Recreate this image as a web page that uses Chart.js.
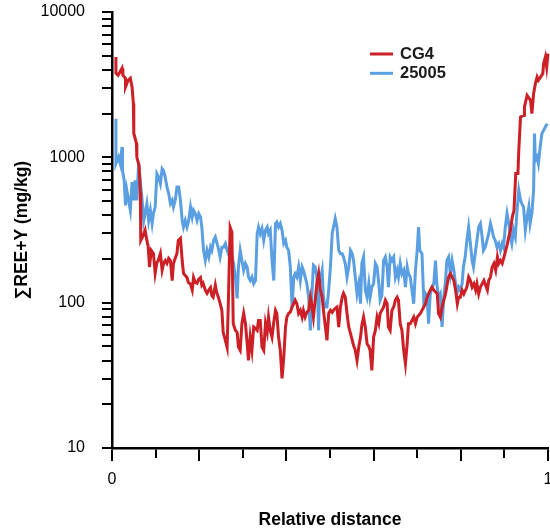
<!DOCTYPE html>
<html><head><meta charset="utf-8">
<script src="https://cdn.jsdelivr.net/npm/chart.js@4.4.1/dist/chart.umd.min.js"></script>
<style>html,body{margin:0;padding:0;background:#fff;}#wrap{width:550px;height:531px;}</style>
</head><body><div id="wrap"><canvas id="c" width="550" height="531"></canvas></div>
<script>
const seriesNames = ['CG4', '25005'];
const cg4X = [0.009,0.009,0.014,0.023,0.025,0.031,0.031,0.037,0.042,0.046,0.049,0.050,0.056,0.057,0.062,0.065,0.066,0.072,0.076,0.080,0.083,0.086,0.090,0.095,0.099,0.103,0.106,0.111,0.115,0.119,0.122,0.126,0.130,0.134,0.138,0.141,0.145,0.149,0.152,0.157,0.161,0.164,0.168,0.172,0.175,0.180,0.184,0.187,0.191,0.195,0.199,0.203,0.206,0.209,0.214,0.218,0.222,0.226,0.229,0.232,0.237,0.240,0.244,0.248,0.252,0.255,0.260,0.264,0.267,0.271,0.275,0.278,0.283,0.287,0.290,0.294,0.298,0.302,0.306,0.310,0.313,0.317,0.321,0.325,0.329,0.333,0.336,0.340,0.344,0.348,0.352,0.356,0.359,0.363,0.367,0.371,0.375,0.378,0.382,0.386,0.390,0.394,0.398,0.401,0.405,0.409,0.413,0.417,0.420,0.424,0.428,0.432,0.436,0.439,0.443,0.447,0.451,0.455,0.459,0.462,0.466,0.470,0.474,0.478,0.482,0.485,0.489,0.493,0.497,0.501,0.505,0.508,0.512,0.516,0.520,0.524,0.528,0.531,0.535,0.539,0.543,0.547,0.551,0.554,0.558,0.562,0.566,0.570,0.573,0.577,0.581,0.585,0.589,0.592,0.596,0.600,0.604,0.608,0.612,0.615,0.619,0.623,0.627,0.631,0.634,0.638,0.642,0.646,0.650,0.654,0.657,0.661,0.665,0.669,0.673,0.677,0.680,0.684,0.688,0.692,0.696,0.700,0.707,0.711,0.715,0.719,0.723,0.726,0.730,0.734,0.738,0.746,0.749,0.753,0.757,0.761,0.765,0.769,0.772,0.776,0.780,0.784,0.788,0.792,0.795,0.799,0.803,0.807,0.814,0.818,0.822,0.826,0.830,0.834,0.837,0.841,0.845,0.853,0.861,0.864,0.868,0.872,0.876,0.880,0.884,0.887,0.891,0.895,0.899,0.903,0.907,0.910,0.914,0.918,0.922,0.926,0.931,0.933,0.937,0.945,0.946,0.952,0.960,0.963,0.967,0.971,0.975,0.978,0.988,0.990,0.994,0.997,1.000];
const cg4Y = [4900,3800,3670,4100,3670,3500,3050,3390,3500,3050,2350,1460,1250,1000,881,565,268,291,315,268,244,176,229,218,159,189,195,218,167,189,195,186,202,195,142,186,202,218,268,277,195,159,154,149,138,134,122,149,138,136,145,149,132,136,122,116,122,127,112,109,132,118,109,99,88.5,62.5,55,49.2,104,330,305,72,64.5,62.5,49.5,47,72,84.4,72,52.5,40,58,47,68,66.5,64.5,75.5,75.5,49.5,47,72,62.8,79.6,64.5,58,73.5,88.5,84.4,58,47,30.1,42.2,68,79.6,84.4,86.2,93.3,99,104,98.4,84.4,88.5,79.6,88.5,79.6,85.8,88.5,109,93.3,79.6,104,136,159,122,109,88.5,69.8,55,84.4,88.5,85.8,88.5,91.4,93.3,68,93.3,109,116,109,84.4,68,61.5,55,50.8,47,40,49.5,58,69.8,79.6,68,52.2,50,47,34.2,58,64.5,79.6,72,84.4,88.5,93.3,104,98.4,68,64.5,88.5,93.3,104,109,104,71.7,64.5,47,38,52.2,71.7,71.7,75.5,79.6,71.7,79.6,84,88.5,93.3,98.4,109,115,122,128,122,115,84,79.6,93.3,104,115,135,150,158,150,142,122,98.4,109,109,122,115,128,150,142,128,135,122,135,115,128,142,122,142,150,176,186,167,206,186,195,186,206,229,255,283,315,388,432,773,773,1117,1894,1945,2220,2672,2468,2000,2745,3215,3570,3390,3767,4415,4900,4183,5172];
const s25005X = [0.009,0.009,0.015,0.019,0.023,0.024,0.028,0.031,0.034,0.038,0.042,0.046,0.050,0.053,0.057,0.061,0.065,0.069,0.073,0.076,0.080,0.084,0.088,0.092,0.095,0.099,0.103,0.107,0.111,0.115,0.118,0.122,0.126,0.130,0.134,0.138,0.141,0.145,0.149,0.153,0.157,0.161,0.164,0.168,0.172,0.176,0.180,0.184,0.187,0.191,0.195,0.199,0.203,0.206,0.210,0.214,0.218,0.222,0.226,0.229,0.233,0.237,0.241,0.245,0.248,0.252,0.256,0.260,0.264,0.267,0.271,0.275,0.279,0.283,0.287,0.290,0.294,0.298,0.302,0.306,0.310,0.313,0.317,0.321,0.325,0.329,0.333,0.336,0.340,0.344,0.348,0.352,0.356,0.359,0.363,0.367,0.371,0.375,0.378,0.382,0.386,0.390,0.394,0.398,0.401,0.405,0.409,0.413,0.417,0.420,0.424,0.428,0.432,0.436,0.439,0.443,0.447,0.451,0.455,0.459,0.462,0.466,0.470,0.474,0.476,0.482,0.485,0.489,0.493,0.497,0.501,0.505,0.508,0.512,0.516,0.520,0.524,0.528,0.531,0.535,0.539,0.543,0.547,0.551,0.554,0.558,0.562,0.566,0.570,0.573,0.577,0.581,0.585,0.589,0.592,0.596,0.600,0.604,0.608,0.612,0.615,0.619,0.623,0.627,0.631,0.634,0.638,0.642,0.646,0.650,0.654,0.657,0.661,0.665,0.669,0.673,0.677,0.680,0.684,0.688,0.692,0.696,0.700,0.703,0.706,0.711,0.715,0.719,0.723,0.726,0.730,0.734,0.738,0.742,0.745,0.749,0.753,0.757,0.761,0.765,0.768,0.772,0.776,0.780,0.784,0.787,0.791,0.795,0.799,0.803,0.806,0.810,0.814,0.818,0.822,0.826,0.829,0.833,0.837,0.841,0.845,0.849,0.852,0.856,0.860,0.864,0.868,0.872,0.875,0.879,0.883,0.887,0.891,0.895,0.898,0.902,0.906,0.910,0.914,0.917,0.921,0.925,0.929,0.933,0.937,0.940,0.944,0.948,0.952,0.956,0.959,0.963,0.967,0.969,0.971,0.975,0.978,0.982,0.986,0.990,0.994,0.998];
const s25005Y = [1846,905,1005,905,1178,814,695,467,593,506,432,676,506,695,506,905,695,506,368,412,480,368,432,350,410,455,772,732,659,836,814,732,625,563,480,506,455,506,625,625,506,368,331,368,331,368,455,388,432,410,368,410,388,331,229,195,229,206,241,229,268,283,255,229,206,241,241,255,229,217,241,206,186,150,107,176,229,195,167,186,176,150,142,150,135,142,298,331,298,323,268,315,331,298,315,195,142,350,359,331,350,315,255,268,241,229,176,93.3,150,158,150,176,142,176,167,150,135,109,64.5,122,181,176,150,64.5,135,167,109,93.3,93.3,122,176,298,331,379,331,229,217,217,206,186,150,176,229,217,195,150,115,135,98.4,186,206,122,109,135,109,128,135,186,176,135,104,112,195,206,176,128,206,195,206,150,167,150,186,158,167,128,176,158,150,122,98.4,167,229,331,229,217,104,115,109,71.7,115,128,135,195,135,109,115,68,109,142,195,206,158,195,167,142,115,128,122,135,176,206,268,331,255,195,176,217,268,331,350,283,229,241,268,298,350,315,283,268,241,255,229,255,241,331,410,350,283,255,315,283,432,593,506,480,455,315,388,455,350,410,593,1456,953,1005,905,1178,1456,1534,1616,1706];
const yTickLabels = [10, 100, 1000, 10000];
const xTickLabels = [0, 1];
const xLongTicks = [0, 0.2, 0.4, 0.6, 0.8, 1];

const FONT = '"Liberation Sans", Arial, sans-serif';

const legendPlugin = {
  id: 'stackedLegend',
  afterDraw(chart) {
    const c = chart.ctx;
    c.save();
    chart.data.datasets.forEach((ds, i) => {
      const y = 54 + i * 19.3;
      c.strokeStyle = ds.borderColor;
      c.lineWidth = 3;
      c.beginPath(); c.moveTo(370, y); c.lineTo(393, y); c.stroke();
      c.fillStyle = '#1a1a1a';
      c.font = 'bold 16.5px ' + FONT;
      c.textBaseline = 'middle';
      c.textAlign = 'left';
      c.fillText(ds.label, 400, y);
    });
    c.restore();
  }
};
const longTickPlugin = {
  id: 'longTicks',
  afterDraw(chart) {
    const s = chart.scales.x, c = chart.ctx;
    c.save(); c.strokeStyle = '#000'; c.lineWidth = 2;
    xLongTicks.forEach(v => {
      const px = Math.round(s.getPixelForValue(v));
      c.beginPath(); c.moveTo(px, s.top + 8); c.lineTo(px, s.top + 13); c.stroke();
    });
    c.restore();
  }
};

new Chart(document.getElementById('c'), {
  type: 'line',
  data: {
    datasets: [
      { label: seriesNames[0], data: cg4X.map((x, i) => ({ x, y: cg4Y[i] })), borderColor: '#CC1F26', backgroundColor: '#CC1F26', borderWidth: 3, pointRadius: 0, tension: 0, fill: false, clip: false },
      { label: seriesNames[1], data: s25005X.map((x, i) => ({ x, y: s25005Y[i] })), borderColor: '#5B9FE3', backgroundColor: '#5B9FE3', borderWidth: 3, pointRadius: 0, tension: 0, fill: false, clip: false }
    ]
  },
  options: {
    responsive: false, animation: false, devicePixelRatio: 1,
    layout: { padding: { top: 12, right: 2, left: 0, bottom: 0 } },
    plugins: { legend: { display: false }, tooltip: { enabled: false } },
    scales: {
      x: {
        type: 'linear', min: 0, max: 1, position: 'bottom',
        border: { display: true, color: '#000', width: 2.5 },
        grid: { display: true, drawOnChartArea: false, drawTicks: true, tickLength: 10, color: '#000', lineWidth: 2 },
        ticks: { stepSize: 0.1, autoSkip: false, maxRotation: 0, padding: 12, color: '#000', font: { family: FONT, size: 16 },
          callback: (v) => { const m = xTickLabels.find(t => Math.abs(t - v) < 1e-9); return m === undefined ? '' : String(m); } },
        title: { display: true, text: 'Relative distance', color: '#000', font: { family: FONT, size: 17.5, weight: 'bold' }, padding: { top: 0, bottom: 0 } },
        afterFit: (s) => { s.height = 83; s.paddingLeft = 0; s.paddingRight = 0; }
      },
      y: {
        type: 'logarithmic', min: 10, max: 10000,
        border: { display: true, color: '#000', width: 2.5 },
        grid: { display: true, drawOnChartArea: false, drawTicks: true, tickLength: 10, color: '#000', lineWidth: 2 },
        ticks: { autoSkip: false, padding: 17, color: '#000', font: { family: FONT, size: 16 },
          callback: (v) => { const m = yTickLabels.find(t => Math.abs(t - v) < 1e-6); return m === undefined ? '' : String(m); } },
        title: { display: true, text: '\u2211REE+Y (mg/kg)', color: '#000', font: { family: FONT, size: 17.5, weight: 'bold' }, padding: { top: 12, bottom: 0 } },
        afterBuildTicks: (s) => {
          const t = [];
          for (let d = 0; d < yTickLabels.length - 1; d++) {
            for (let k = 1; k <= 9; k++) t.push({ value: k * yTickLabels[d] });
          }
          t.push({ value: yTickLabels[yTickLabels.length - 1] });
          s.ticks = t;
        },
        afterFit: (s) => { s.width = 112; s.paddingTop = 0; s.paddingBottom = 0; }
      }
    }
  },
  plugins: [legendPlugin, longTickPlugin]
});
</script>
</body></html>
